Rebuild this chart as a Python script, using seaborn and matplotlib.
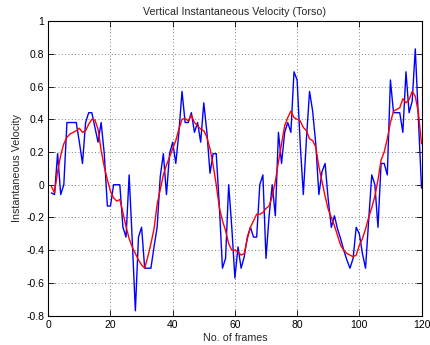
import matplotlib
matplotlib.use("Agg")
import matplotlib.pyplot as plt
import seaborn as sns
import pandas as pd

frames = list(range(1, 121))

raw_velocity = [
    -0.05, -0.06, 0.19, -0.06, 0.00, 0.38, 0.38, 0.38, 0.38, 0.26,
    0.13, 0.38, 0.44, 0.44, 0.35, 0.26, 0.38, 0.19, -0.13, -0.13,
    0.00, 0.00, 0.00, -0.26, -0.32, 0.06, -0.34, -0.77, -0.32, -0.26,
    -0.51, -0.51, -0.51, -0.38, -0.26, 0.05, 0.19, -0.06, 0.19, 0.26,
    0.13, 0.32, 0.57, 0.38, 0.38, 0.44, 0.32, 0.38, 0.26, 0.50,
    0.32, 0.07, 0.19, 0.19, -0.13, -0.51, -0.45, 0.00, -0.26, -0.57,
    -0.38, -0.51, -0.44, -0.32, -0.26, -0.32, -0.32, 0.00, 0.06, -0.45,
    -0.19, 0.00, -0.19, 0.32, 0.13, 0.32, 0.38, 0.32, 0.69, 0.64,
    0.25, -0.06, 0.28, 0.57, 0.45, 0.25, -0.06, 0.08, 0.13, -0.09,
    -0.26, -0.19, -0.27, -0.33, -0.40, -0.46, -0.51, -0.45, -0.26, -0.30,
    -0.42, -0.51, -0.22, 0.06, 0.00, -0.26, 0.13, 0.13, 0.06, 0.64,
    0.44, 0.44, 0.44, 0.32, 0.69, 0.44, 0.51, 0.83, 0.40, -0.02,
]

smoothed_velocity = [
    -0.01, -0.05, 0.08, 0.18, 0.25, 0.29, 0.31, 0.32, 0.33, 0.345,
    0.32, 0.33, 0.37, 0.40, 0.395, 0.34, 0.21, 0.11, 0.03, -0.04,
    -0.08, -0.10, -0.09, -0.17, -0.255, -0.33, -0.38, -0.42, -0.46, -0.49,
    -0.51, -0.44, -0.36, -0.27, -0.12, -0.03, 0.06, 0.12, 0.17, 0.22,
    0.27, 0.34, 0.40, 0.405, 0.39, 0.425, 0.38, 0.36, 0.34, 0.33,
    0.29, 0.22, 0.12, 0.00, -0.14, -0.22, -0.28, -0.36, -0.40, -0.40,
    -0.41, -0.43, -0.42, -0.33, -0.26, -0.22, -0.18, -0.18, -0.17, -0.145,
    -0.13, -0.07, 0.02, 0.14, 0.25, 0.36, 0.41, 0.45, 0.41, 0.40,
    0.39, 0.35, 0.33, 0.28, 0.27, 0.23, 0.11, 0.02, -0.07, -0.15,
    -0.20, -0.25, -0.31, -0.37, -0.40, -0.42, -0.43, -0.44, -0.43, -0.37,
    -0.33, -0.27, -0.20, -0.14, -0.07, 0.03, 0.15, 0.20, 0.28, 0.38,
    0.45, 0.46, 0.47, 0.525, 0.50, 0.52, 0.57, 0.54, 0.44, 0.25,
]

x_ticks = [0, 20, 40, 60, 80, 100, 120]
y_ticks = [-0.8, -0.6, -0.4, -0.2, 0, 0.2, 0.4, 0.6, 0.8, 1]
y_tick_labels = ["-0.8", "-0.6", "-0.4", "-0.2", "0", "0.2", "0.4", "0.6", "0.8", "1"]

sns.set_style("white")
plt.rcParams["font.family"] = ["Liberation Sans", "DejaVu Sans"]
plt.rcParams["axes.unicode_minus"] = False

df = pd.DataFrame({"frame": frames, "raw": raw_velocity, "smooth": smoothed_velocity})

fig = plt.figure(figsize=(4.31, 3.45), dpi=100)
ax = fig.add_axes([0.112, 0.085, 0.866, 0.854])

sns.lineplot(data=df, x="frame", y="raw", ax=ax, color="#0000ff", linewidth=1.0)
sns.lineplot(data=df, x="frame", y="smooth", ax=ax, color="#ff0000", linewidth=1.0)

ax.set_xlim(0, 120)
ax.set_ylim(-0.8, 1)
ax.set_xticks(x_ticks)
ax.set_xticklabels([str(t) for t in x_ticks])
ax.set_yticks(y_ticks)
ax.set_yticklabels(y_tick_labels)

ax.grid(True, linestyle=(0, (1, 3)), color="#555555", linewidth=0.6)
for s in ax.spines.values():
    s.set_visible(True)
    s.set_color("black")
    s.set_linewidth(0.8)
ax.tick_params(direction="in", length=4, width=0.6, labelsize=7.5,
               top=True, right=True, bottom=True, left=True, colors="black", pad=3)

ax.set_title("Vertical Instantaneous Velocity (Torso)", fontsize=7.7, pad=4)
ax.set_xlabel("No. of frames", fontsize=7.7, labelpad=2)
ax.set_ylabel("Instantaneous Velocity", fontsize=7.7, labelpad=3)

fig.savefig("out.png", dpi=100, facecolor="white")
